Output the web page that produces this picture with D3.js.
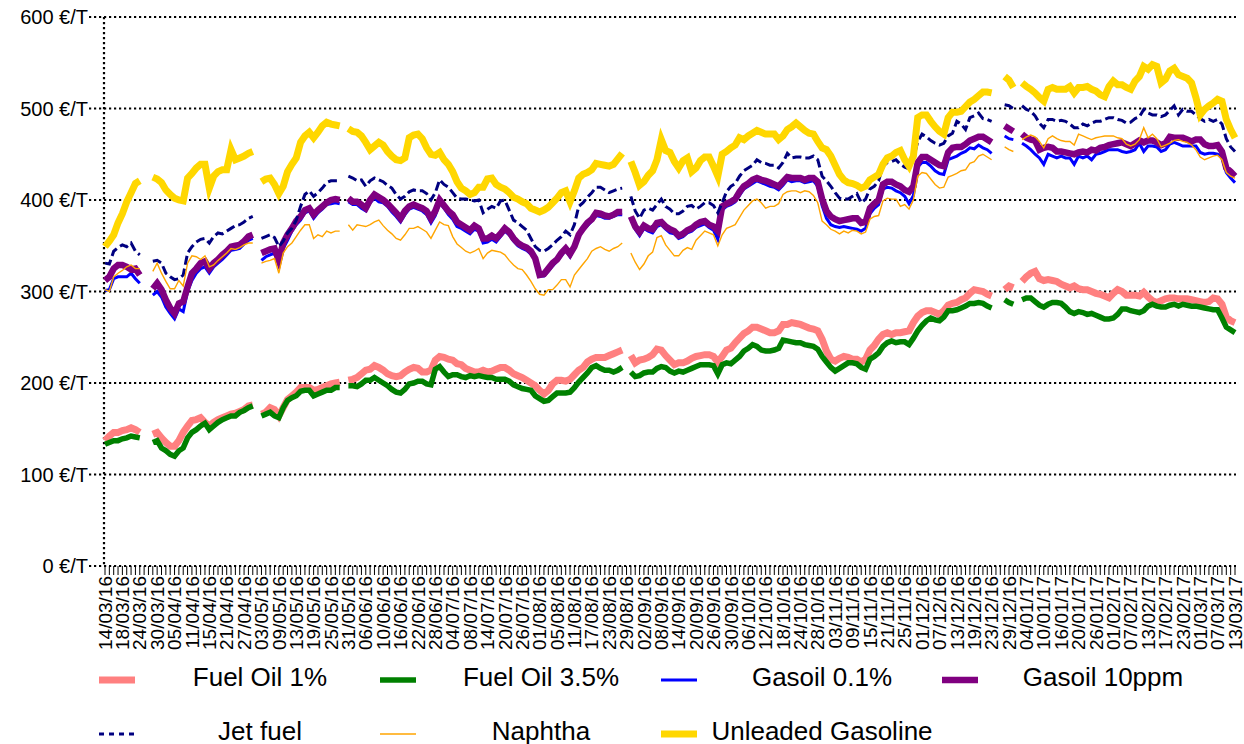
<!DOCTYPE html>
<html><head><meta charset="utf-8">
<script src="https://cdn.jsdelivr.net/npm/d3@7"></script>
<style>
html,body{margin:0;padding:0;background:#fff;}
svg{display:block;}
text{font-family:"Liberation Sans",Arial,sans-serif;fill:#000;}
</style></head><body>
<svg id="chart" width="1244" height="744"></svg>
<script>
const tickLabels = ["14/03/16","18/03/16","24/03/16","30/03/16","05/04/16","11/04/16","15/04/16","21/04/16","27/04/16","03/05/16","09/05/16","13/05/16","19/05/16","25/05/16","31/05/16","06/06/16","10/06/16","16/06/16","22/06/16","28/06/16","04/07/16","08/07/16","14/07/16","20/07/16","26/07/16","01/08/16","05/08/16","11/08/16","17/08/16","23/08/16","29/08/16","02/09/16","08/09/16","14/09/16","20/09/16","26/09/16","30/09/16","06/10/16","12/10/16","18/10/16","24/10/16","28/10/16","03/11/16","09/11/16","15/11/16","21/11/16","25/11/16","01/12/16","07/12/16","13/12/16","19/12/16","23/12/16","29/12/16","04/01/17","10/01/17","16/01/17","20/01/17","26/01/17","01/02/17","07/02/17","13/02/17","17/02/17","23/02/17","01/03/17","07/03/17","13/03/17"];
const yTicks = [0,100,200,300,400,500,600];
const seriesNames = ["Fuel Oil 1%","Fuel Oil 3.5%","Gasoil 0.1%","Gasoil 10ppm","Jet fuel","Naphtha","Unleaded Gasoline"];

const fuelOil1 = [137,142,146,146,148,149,151,149,146,null,
null,144,146,140,135,131,131,137,146,153,
159,160,162,157,153,157,160,162,164,166,
167,169,171,175,176,null,166,168,173,171,
164,173,182,186,190,195,195,195,192,193,
195,197,199,200,201,null,203,204,206,210,
214,215,219,217,214,210,208,207,208,212,
215,217,216,212,212,214,225,229,228,226,
225,221,220,216,214,212,212,214,212,213,
215,217,217,214,210,208,206,203,200,197,
192,188,192,199,203,203,202,204,209,214,
217,223,226,228,228,228,230,232,234,236,
null,230,222,225,226,228,231,237,236,230,
225,220,222,222,224,227,229,230,231,231,
229,223,229,236,238,244,249,254,257,261,
261,259,257,255,255,257,264,264,266,265,
264,262,260,259,257,248,235,226,224,227,
229,228,226,226,223,226,236,241,248,253,
255,253,255,255,256,257,266,273,277,279,
279,277,275,279,285,287,288,291,293,298,
302,301,300,297,295,null,null,302,306,304,
null,311,316,320,322,314,312,313,312,311,
308,306,304,306,303,302,302,300,298,297,
295,293,298,302,300,296,296,296,295,299,
294,290,288,290,292,293,293,292,292,292,
291,290,289,288,289,293,292,286,272,268,
266];

const fuelOil35 = [133,135,137,137,139,140,142,141,140,null,
null,135,137,129,126,122,120,126,129,140,
146,149,153,156,149,153,157,160,162,164,
164,168,170,173,175,null,164,166,168,164,
162,173,181,184,186,191,192,192,186,188,
190,192,192,195,195,null,197,197,196,199,
203,203,206,203,200,197,193,190,189,193,
199,200,202,202,199,198,215,218,212,207,
209,209,207,206,208,207,208,207,206,206,
204,204,204,202,198,196,194,193,192,186,
183,180,181,185,189,189,189,190,195,201,
206,211,217,219,216,214,214,212,214,217,
null,212,207,208,211,212,212,216,218,217,
213,211,213,212,214,216,218,220,220,220,
219,210,220,222,221,225,229,235,238,242,
240,236,235,235,236,238,247,246,245,244,
244,242,241,240,237,229,223,217,213,216,
219,222,222,221,217,215,226,229,233,240,
244,246,244,245,245,242,249,257,263,268,
271,269,268,272,279,279,280,282,284,287,
287,288,287,284,282,null,null,291,288,286,
null,291,293,293,289,285,283,286,288,288,
287,283,278,276,278,277,275,276,274,272,
270,270,271,275,281,281,279,278,277,279,
284,286,284,283,283,285,286,284,286,285,
284,284,283,282,281,280,280,271,261,258,
255];

const gasoil01 = [301,302,314,316,316,316,320,314,309,null,
null,296,300,294,283,276,270,281,278,300,
312,320,325,327,320,327,331,335,340,345,
346,347,352,356,358,null,334,338,340,342,
329,347,356,366,373,378,386,388,380,386,
390,395,396,397,396,null,398,395,395,391,
388,397,402,398,397,393,387,382,376,384,
390,392,390,388,384,375,383,397,391,384,
379,371,369,366,363,368,366,353,354,357,
354,360,366,362,355,350,347,345,341,334,
317,317,322,328,333,339,345,338,347,360,
367,372,377,383,382,380,380,382,384,384,
null,379,368,361,369,366,364,371,373,368,
364,363,358,360,364,366,370,372,374,370,
367,357,389,393,395,398,405,412,415,418,
421,419,417,415,414,411,416,422,420,421,
421,419,420,421,415,394,380,373,371,370,
371,370,369,368,366,369,385,391,395,412,
414,413,410,408,404,396,405,436,441,441,
437,432,429,428,444,446,448,451,453,457,
456,460,457,455,451,null,null,470,467,466,
null,462,459,455,450,446,439,450,448,446,
448,446,446,439,448,446,448,444,450,451,
453,455,455,455,453,452,453,455,462,453,
459,459,458,453,455,461,463,461,459,459,
459,459,452,450,451,451,450,447,430,424,
419];

const gasoil10 = [312,316,325,329,329,327,324,325,318,null,
null,303,309,302,291,282,276,287,289,305,
320,325,331,333,325,331,335,340,344,349,
350,351,355,360,362,null,342,344,346,347,
334,353,362,369,377,382,389,391,384,389,
393,397,400,401,400,null,402,398,398,395,
391,400,406,403,400,396,391,386,380,388,
393,395,393,391,388,380,388,400,394,388,
384,376,373,370,367,372,369,358,358,361,
358,363,369,365,358,353,350,348,344,336,
318,319,325,331,335,342,347,341,349,362,
369,375,379,386,385,383,382,384,387,387,
null,382,371,365,372,369,368,375,376,371,
368,366,361,363,367,369,373,376,377,373,
371,366,393,396,398,401,409,415,418,422,
424,422,421,419,417,415,420,425,424,424,
424,422,424,424,420,401,388,382,379,377,
378,379,380,380,375,376,391,396,400,417,
420,420,417,415,411,409,415,441,447,447,
444,441,438,437,452,457,458,458,461,465,
467,469,469,466,463,null,null,481,478,475,
null,472,468,466,465,455,457,458,457,453,
453,452,451,450,452,453,452,455,454,457,
458,460,461,462,463,461,459,462,465,463,
465,465,463,460,462,469,468,468,468,466,
464,466,466,461,459,459,460,453,435,431,
426];

const jetFuel = [331,330,344,348,351,349,353,344,340,null,
null,333,334,331,320,316,313,314,318,342,
349,354,357,358,353,360,364,363,366,369,
372,373,376,380,382,null,358,360,362,359,
349,355,364,369,378,393,406,410,404,408,
413,419,421,421,421,null,426,424,421,422,
415,421,424,422,420,416,413,406,401,404,
409,411,410,410,407,400,408,422,417,414,
408,402,401,401,400,399,400,386,390,393,
391,399,400,389,378,375,371,367,358,349,
345,344,347,351,356,360,366,362,373,393,
397,403,408,414,414,411,408,410,412,413,
null,404,388,380,389,391,389,395,401,393,
390,385,385,388,393,394,390,393,397,397,
394,386,397,409,415,418,426,432,435,438,
444,441,440,438,438,435,441,451,446,447,
447,446,446,448,444,426,421,415,408,402,
401,401,404,407,397,401,412,415,421,437,
441,442,444,439,436,434,445,464,472,469,
465,462,460,462,470,473,486,483,477,490,
492,495,489,488,486,null,null,504,503,500,
null,503,499,497,492,484,479,488,488,486,
487,486,483,479,479,483,481,484,486,486,
488,490,490,488,487,484,485,489,491,499,
495,493,493,491,493,498,503,493,499,497,
497,493,489,486,488,486,488,483,467,458,
453];

const naphtha = [302,300,316,320,323,327,329,325,325,null,
null,322,331,320,311,303,303,312,306,331,
339,338,335,339,327,329,334,338,342,347,
346,348,351,353,353,null,331,333,334,336,
320,342,349,353,360,367,373,373,358,362,
360,366,364,366,366,null,373,367,373,372,
371,373,376,378,372,367,363,358,356,362,
369,369,371,368,365,358,367,376,373,372,
360,352,348,344,342,344,347,336,342,345,
344,343,340,334,329,325,324,318,311,303,
297,296,302,302,307,313,313,305,318,324,
330,336,344,347,349,346,344,347,349,353,
null,342,332,324,330,339,343,359,361,351,
345,339,339,345,348,346,356,361,366,364,
362,350,362,369,371,373,381,389,394,399,
401,397,391,393,393,396,406,409,410,410,
408,410,409,405,397,377,373,368,366,363,
366,364,367,366,363,365,379,382,383,399,
402,401,401,393,395,390,400,426,430,429,
423,417,413,414,425,427,429,432,433,440,
442,448,450,447,444,null,null,458,455,453,
null,466,469,471,469,464,457,467,470,467,
465,464,464,460,472,470,468,466,468,469,
470,470,470,468,467,461,459,461,466,479,
468,472,467,458,460,462,465,466,464,463,
460,455,447,444,446,448,449,444,430,426,
424];

const unleaded = [349,355,362,375,385,398,408,418,421,null,
null,425,423,419,411,406,402,400,399,424,
429,435,439,439,413,426,431,433,433,455,
444,446,448,451,453,null,420,423,424,417,
407,415,431,439,446,463,470,474,468,474,
481,485,483,482,481,null,478,475,474,470,
463,455,459,463,460,453,448,444,443,446,
468,471,472,467,457,450,449,452,444,439,
431,420,413,410,406,408,414,414,423,424,
417,414,412,408,403,401,398,396,391,389,
387,389,392,397,402,408,410,398,410,424,
428,430,433,440,439,438,437,439,445,451,
null,442,430,416,420,427,432,444,466,454,
452,442,435,443,446,431,435,443,447,447,
437,426,450,453,457,460,468,466,470,473,
476,474,472,472,472,466,470,477,480,484,
480,476,473,472,464,457,455,448,438,428,
422,419,418,416,413,415,422,425,428,439,
446,448,452,454,444,437,448,490,493,493,
486,480,475,472,490,496,496,497,502,507,
510,514,518,518,517,null,null,535,531,523,
null,528,524,521,517,512,508,521,523,521,
521,521,524,517,523,523,524,521,519,515,
513,524,530,526,526,523,521,530,535,546,
543,548,546,528,532,541,544,537,535,533,
528,512,493,499,503,506,510,508,488,477,
468];

// weekday categories 14/03/16 .. 13/03/17
const fmt = d3.timeFormat("%d/%m/%y");
const categories = d3.timeDay.range(new Date(2016,2,14), new Date(2017,2,14))
  .filter(d => d.getDay() !== 0 && d.getDay() !== 6).map(fmt);

const series = [
  {name: seriesNames[0], values: fuelOil1, color: "#FF8080", width: 7, dash: null},
  {name: seriesNames[1], values: fuelOil35, color: "#008000", width: 5.5, dash: null},
  {name: seriesNames[2], values: gasoil01, color: "#0000FF", width: 3, dash: null},
  {name: seriesNames[3], values: gasoil10, color: "#800080", width: 6.5, dash: null},
  {name: seriesNames[4], values: jetFuel, color: "#000080", width: 3, dash: "9,4"},
  {name: seriesNames[5], values: naphtha, color: "#FFA500", width: 1.4, dash: null},
  {name: seriesNames[6], values: unleaded, color: "#FFD700", width: 7, dash: null}
];

const svg = d3.select("#chart");
const x = d3.scalePoint().domain(categories).range([105, 1235]);
const y = d3.scaleLinear().domain([0, 600]).range([566, 17]);

// gridlines
svg.append("g").selectAll("line").data(yTicks).join("line")
  .attr("x1", 89).attr("x2", 1236)
  .attr("y1", d => y(d)).attr("y2", d => y(d))
  .attr("stroke", "#000").attr("stroke-width", 2.2).attr("stroke-dasharray", "2.2,2.8");

// y axis line
svg.append("line").attr("x1", 104).attr("x2", 104).attr("y1", y(600)).attr("y2", y(0))
  .attr("stroke", "#000").attr("stroke-width", 2.2).attr("stroke-dasharray", "2.2,2.8");

// y labels
svg.append("g").selectAll("text").data(yTicks).join("text")
  .attr("x", 88).attr("y", d => y(d)).attr("dy", "0.35em")
  .attr("text-anchor", "end").attr("font-size", 20)
  .text(d => d + " €/T");

// x ticks
svg.append("g").selectAll("line").data(categories).join("line")
  .attr("x1", d => x(d)).attr("x2", d => x(d))
  .attr("y1", 566).attr("y2", 575)
  .attr("stroke", "#000").attr("stroke-width", 1);

// x labels
svg.append("g").selectAll("text").data(tickLabels).join("text")
  .attr("transform", d => `translate(${x(d)},576) rotate(-90)`)
  .attr("dy", "0.35em").attr("text-anchor", "end").attr("font-size", 19)
  .text(d => d);

// lines
const line = d3.line().defined(d => d != null)
  .x((d, i) => x(categories[i])).y(d => y(d));
const lg = svg.append("g");
series.forEach(s => {
  lg.append("path").datum(s.values)
    .attr("fill", "none").attr("stroke", s.color).attr("stroke-width", s.width)
    .attr("stroke-dasharray", s.dash)
    .attr("d", line);
});

// legend
const colX = [99, 380, 661, 942];
const rowY = [677, 731];
series.forEach((s, k) => {
  const r = k < 4 ? 0 : 1, c = k < 4 ? k : k - 4;
  const g = svg.append("g");
  g.append("line").attr("x1", colX[c]).attr("x2", colX[c] + 36)
    .attr("y1", rowY[r] + 3).attr("y2", rowY[r] + 3)
    .attr("stroke", s.color).attr("stroke-width", s.width)
    .attr("stroke-dasharray", s.dash ? "5,5" : null);
  g.append("text").attr("x", colX[c] + 161).attr("y", rowY[r]).attr("dy", "0.35em")
    .attr("text-anchor", "middle").attr("font-size", 26).text(s.name);
});
</script>
</body></html>
